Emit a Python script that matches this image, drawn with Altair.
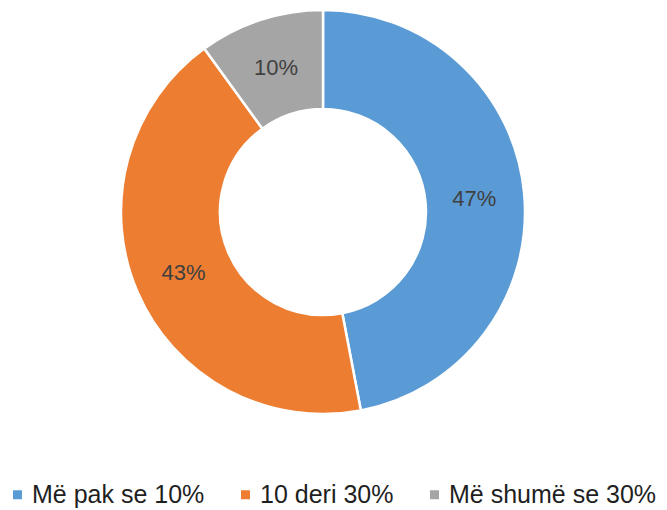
import altair as alt
import pandas as pd

categories = ["Më pak se 10%", "10 deri 30%", "Më shumë se 30%"]
values = [47, 43, 10]
labels = ["47%", "43%", "10%"]
colors = ["#5B9BD5", "#ED7D31", "#A5A5A5"]

df = pd.DataFrame({
    "cat": categories,
    "val": values,
    "label": labels,
    "idx": list(range(len(categories))),
})

FONT = "Liberation Sans"

base = alt.Chart(df).encode(
    theta=alt.Theta("val:Q", stack=True),
    order=alt.Order("idx:Q"),
)

arcs = base.mark_arc(
    outerRadius=202, innerRadius=103, stroke="white", strokeWidth=2.5
).encode(
    x=alt.value(315),
    y=alt.value(204),
    color=alt.Color(
        "cat:N",
        sort=categories,
        scale=alt.Scale(domain=categories, range=colors),
        legend=alt.Legend(
            title=None,
            orient="none",
            legendX=-3,
            legendY=474,
            direction="horizontal",
            symbolType="square",
            symbolSize=81,
            symbolStrokeWidth=0,
            labelFontSize=25,
            labelFont=FONT,
            labelColor="#1f1f1f",
            labelLimit=0,
            columnPadding=28,
            labelOffset=2,
        ),
    ),
)

text = base.mark_text(
    radius=152, fontSize=22, font=FONT, color="#404040"
).encode(
    x=alt.value(315),
    y=alt.value(205),
    text="label:N",
)

chart = (arcs + text).properties(
    width=651, height=502, autosize=alt.AutoSizeParams(type="none"), padding=0
).configure_view(stroke=None)

chart.save("out.html", embed_options={"renderer": "svg", "actions": False})
